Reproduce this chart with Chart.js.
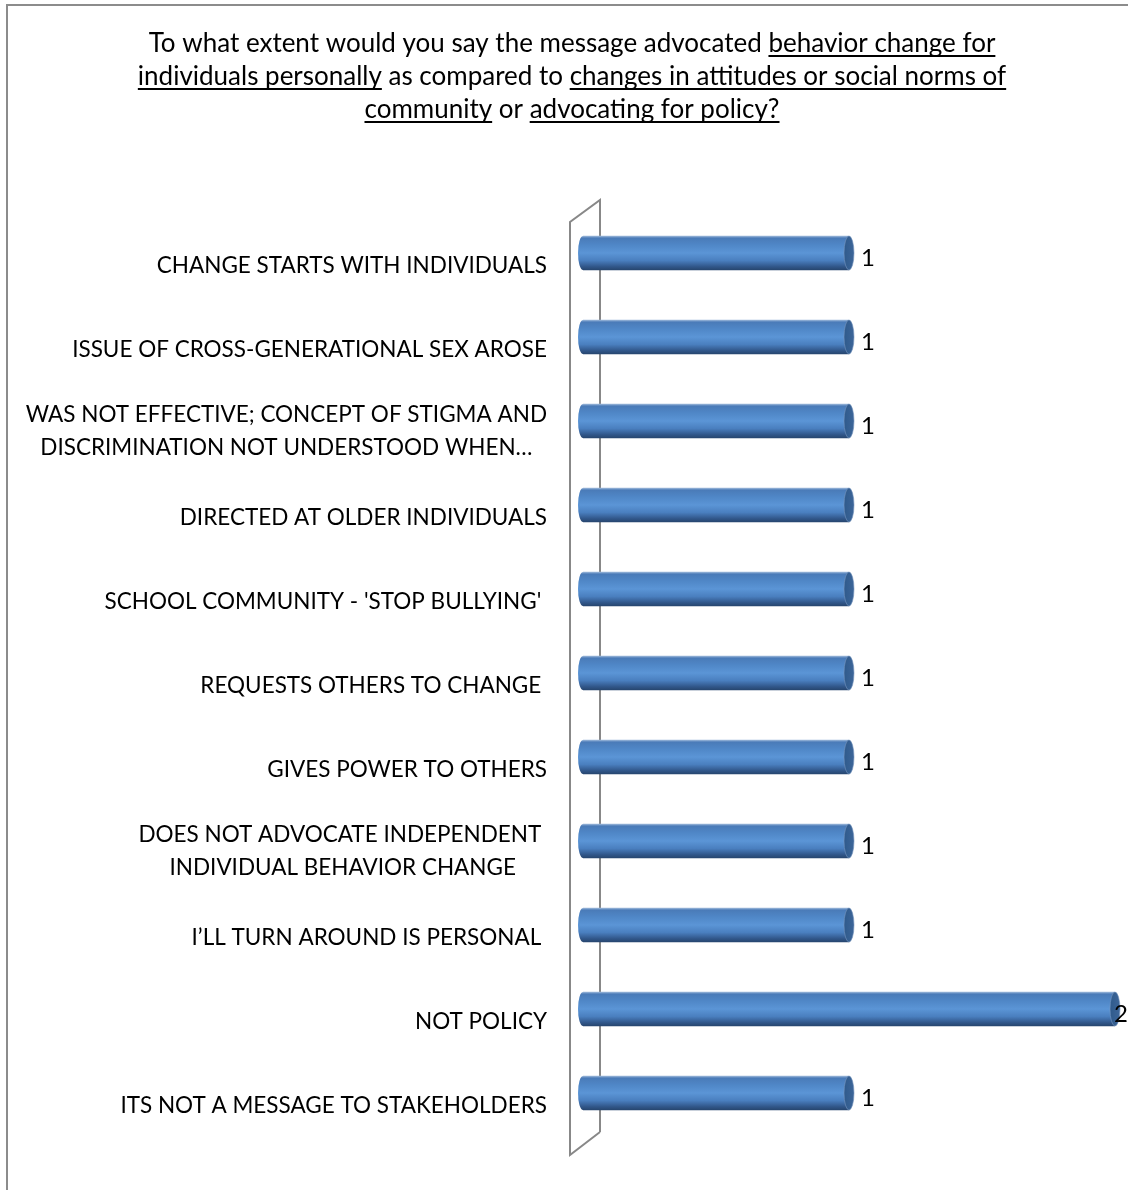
<!DOCTYPE html>
<html>
<head>
<meta charset="utf-8">
<script src="https://cdn.jsdelivr.net/npm/chart.js@4.4.1/dist/chart.umd.min.js"></script>
<style>
  html, body { margin: 0; padding: 0; background: #fff; overflow: hidden; }
  #wrap { position: relative; width: 1128px; height: 1190px; }
</style>
</head>
<body>
<div id="wrap"><canvas id="chart"></canvas></div>
<script>
// Survey answers, listed top to bottom
const categories = [
  "CHANGE STARTS WITH INDIVIDUALS",
  "ISSUE OF CROSS-GENERATIONAL SEX AROSE",
  ["WAS NOT EFFECTIVE; CONCEPT OF STIGMA AND", "DISCRIMINATION NOT UNDERSTOOD WHEN\u2026"],
  "DIRECTED AT OLDER INDIVIDUALS",
  "SCHOOL COMMUNITY - 'STOP BULLYING' ",
  "REQUESTS OTHERS TO CHANGE ",
  "GIVES POWER TO OTHERS",
  ["DOES NOT ADVOCATE INDEPENDENT ", "INDIVIDUAL BEHAVIOR CHANGE"],
  "I\u2019LL TURN AROUND IS PERSONAL ",
  "NOT POLICY",
  "ITS NOT A MESSAGE TO STAKEHOLDERS"
];

// Number of responses per answer
const counts = [1, 1, 1, 1, 1, 1, 1, 1, 1, 2, 1];

// Value axis range
const axisMin = 0;
const axisMax = 2;

// Title lines: [text, underlined]
const titleLines = [
  [["To what extent would you say the message advocated ", false], ["behavior change for", true]],
  [["individuals personally", true], [" as compared to ", false], ["changes in attitudes or social norms of", true]],
  [["community", true], [" or ", false], ["advocating for policy?", true]]
];

const FONT = "Lato, 'Open Sans', sans-serif";
const LABEL_SIZE = 22.5;
const VALUE_SIZE = 24;
const TITLE_SIZE = 26;
const CAP_RX = 5;

function bodyGradient(ctx, yc, h) {
  const g = ctx.createLinearGradient(0, yc - h / 2, 0, yc + h / 2);
  g.addColorStop(0.00, '#9db8da');
  g.addColorStop(0.06, '#4a7bb8');
  g.addColorStop(0.25, '#4f86c6');
  g.addColorStop(0.50, '#5b95d6');
  g.addColorStop(0.72, '#4a7fbf');
  g.addColorStop(0.90, '#31578a');
  g.addColorStop(1.00, '#27466f');
  return g;
}

const cylinderPlugin = {
  id: 'cylinderChart',
  beforeDraw(chart) {
    const ctx = chart.ctx;
    ctx.save();
    ctx.fillStyle = '#ffffff';
    ctx.fillRect(0, 0, chart.width, chart.height);
    // outer frame
    ctx.strokeStyle = '#8c8c8c';
    ctx.lineWidth = 2;
    ctx.strokeRect(7, 5, chart.width + 40, chart.height + 40);

    // title with underlined phrases
    ctx.font = `${TITLE_SIZE}px ${FONT}`;
    ctx.fillStyle = '#000000';
    ctx.textBaseline = 'alphabetic';
    ctx.textAlign = 'left';
    const cx = 572;
    titleLines.forEach((segs, i) => {
      const total = segs.reduce((s, [t]) => s + ctx.measureText(t).width, 0);
      let x = cx - total / 2;
      const y = 52 + i * 33;
      segs.forEach(([t, u]) => {
        const w = ctx.measureText(t).width;
        ctx.fillText(t, x, y);
        if (u) ctx.fillRect(x, y + 3, w, 2);
        x += w;
      });
    });
    ctx.restore();
  },
  beforeDatasetsDraw(chart) {
    // 3D side wall behind the bars
    const ctx = chart.ctx;
    const a = chart.chartArea;
    const backX = a.left + 17, frontX = a.left - 13;
    ctx.save();
    ctx.strokeStyle = '#888888';
    ctx.lineWidth = 2;
    ctx.lineJoin = 'miter';
    ctx.beginPath();
    ctx.moveTo(backX, a.bottom - 3);
    ctx.lineTo(backX, a.top - 11);
    ctx.lineTo(frontX, a.top + 11);
    ctx.lineTo(frontX, a.bottom + 20);
    ctx.lineTo(backX, a.bottom - 3);
    ctx.stroke();
    ctx.restore();
  },
  afterDatasetsDraw(chart) {
    const ctx = chart.ctx;
    const meta = chart.getDatasetMeta(0);
    const yScale = chart.scales.y;
    ctx.save();
    meta.data.forEach((el, i) => {
      const h = el.height;
      const yc = el.y;
      // rounded left end of the cylinder
      ctx.fillStyle = bodyGradient(ctx, yc, h);
      ctx.beginPath();
      ctx.ellipse(el.base, yc, CAP_RX, h / 2, 0, Math.PI / 2, Math.PI * 1.5);
      ctx.closePath();
      ctx.fill();
      // end cap
      const cap = ctx.createLinearGradient(el.x - CAP_RX, 0, el.x + CAP_RX, 0);
      cap.addColorStop(0, '#2f5a8c');
      cap.addColorStop(1, '#3d6699');
      ctx.fillStyle = cap;
      ctx.beginPath();
      ctx.ellipse(el.x, yc, CAP_RX, h / 2, 0, 0, Math.PI * 2);
      ctx.fill();
      ctx.strokeStyle = 'rgba(120,150,190,0.6)';
      ctx.lineWidth = 1;
      ctx.stroke();
    });

    // value labels
    ctx.font = `${VALUE_SIZE}px ${FONT}`;
    ctx.fillStyle = '#000000';
    ctx.textAlign = 'left';
    ctx.textBaseline = 'alphabetic';
    meta.data.forEach((el, i) => {
      const t = String(counts[i]);
      const w = ctx.measureText(t).width;
      let x = el.x + CAP_RX + 7;
      if (x + w > chart.width) x = chart.width - w;
      ctx.fillText(t, x, el.y + 13);
    });

    // category labels
    ctx.font = `${LABEL_SIZE}px ${FONT}`;
    const right = chart.chartArea.left - 36;
    categories.forEach((lab, i) => {
      const lines = Array.isArray(lab) ? lab : [lab];
      const yc = yScale.getPixelForValue(i);
      const maxW = Math.max(...lines.map(l => ctx.measureText(l).width));
      const cx = right - maxW / 2;
      ctx.textAlign = 'center';
      if (lines.length === 1) {
        ctx.fillText(lines[0], cx, yc + 20);
      } else {
        lines.forEach((l, k) => ctx.fillText(l, cx, yc + 1 + k * 33));
      }
    });
    ctx.restore();
  }
};

new Chart(document.getElementById('chart'), {
  type: 'bar',
  data: {
    labels: categories,
    datasets: [{
      data: counts,
      backgroundColor(context) {
        const chart = context.chart;
        if (!chart.chartArea || context.dataIndex === undefined) return '#4f81bd';
        const yc = chart.scales.y.getPixelForValue(context.dataIndex);
        return bodyGradient(chart.ctx, yc, 34);
      },
      borderWidth: 0,
      barThickness: 34
    }]
  },
  options: {
    indexAxis: 'y',
    responsive: true,
    maintainAspectRatio: false,
    animation: false,
    layout: { padding: { left: 583, right: 13, top: 211, bottom: 55 } },
    scales: {
      x: { display: false, min: axisMin, max: axisMax },
      y: { display: false }
    },
    plugins: {
      legend: { display: false },
      title: { display: false },
      tooltip: { enabled: false }
    }
  },
  plugins: [cylinderPlugin]
});
</script>
</body>
</html>
